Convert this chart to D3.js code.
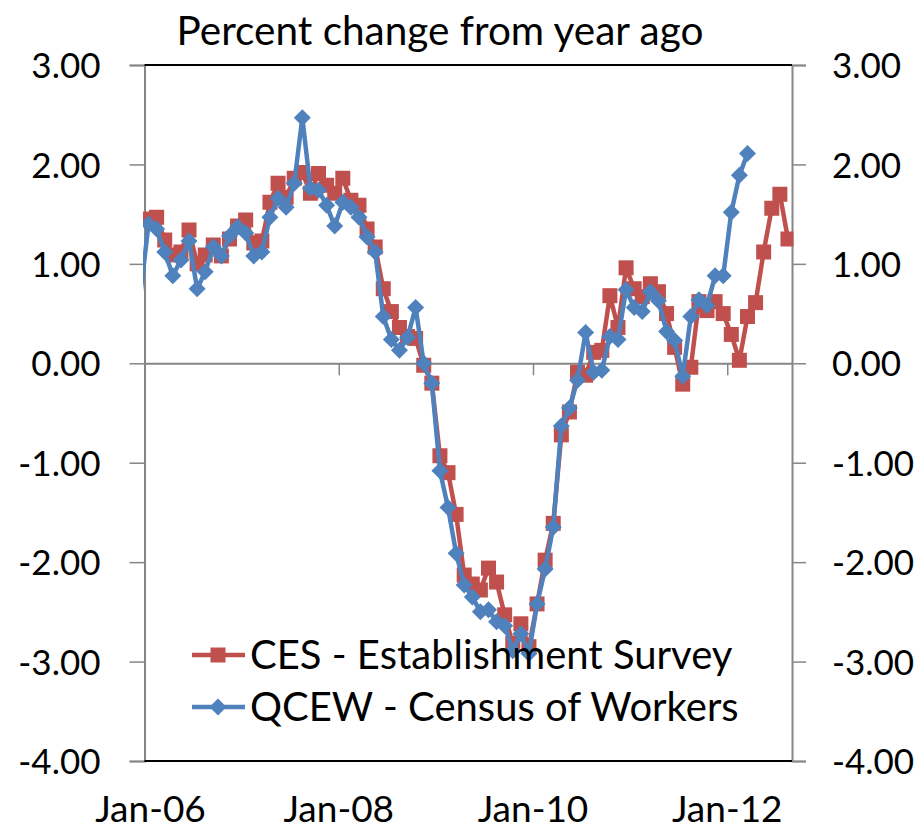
<!DOCTYPE html>
<html>
<head>
<meta charset="utf-8">
<script src="https://cdn.jsdelivr.net/npm/d3@7"></script>
<style>
	body { margin: 0; background: #fff; }
	text { font-family: Lato, "Open Sans", sans-serif; fill: #000; }
</style>
</head>
<body>
<svg id="chart" width="924" height="831"></svg>
<script>
// month 0 = Jan-06, one value per month
var qcewStart = -1; // QCEW series begins one month before the axis (clipped)

var ces = [1.45, 1.47, 1.24, 1.09, 1.12, 1.34, 1.00, 1.09, 1.19, 1.08, 1.25, 1.38, 1.44, 1.21, 1.23, 1.62,
	1.81, 1.67, 1.86, 1.92, 1.71, 1.91, 1.79, 1.71, 1.86, 1.64, 1.59, 1.35, 1.17, 0.75, 0.52, 0.36,
	0.27, 0.25, -0.02, -0.20, -0.93, -1.10, -1.52, -2.13, -2.22, -2.28, -2.06, -2.20, -2.53, -2.82,
	-2.62, -2.85, -2.42, -1.98, -1.61, -0.72, -0.49, -0.09, -0.12, 0.11, 0.13, 0.68, 0.36, 0.96,
	0.75, 0.67, 0.80, 0.72, 0.50, 0.16, -0.21, -0.04, 0.62, 0.53, 0.62, 0.50, 0.29, 0.03, 0.47,
	0.61, 1.12, 1.56, 1.70, 1.25];

var qcew = [0.70,
	1.40, 1.35, 1.12, 0.88, 1.04, 1.23, 0.75, 0.92, 1.17, 1.08, 1.28, 1.37, 1.31, 1.08, 1.12, 1.47,
	1.66, 1.57, 1.81, 2.47, 1.76, 1.74, 1.59, 1.38, 1.62, 1.57, 1.47, 1.27, 1.12, 0.47, 0.24, 0.13,
	0.26, 0.56, 0.00, -0.20, -1.08, -1.45, -1.91, -2.23, -2.35, -2.50, -2.48, -2.60, -2.64, -2.89,
	-2.72, -2.92, -2.42, -2.07, -1.65, -0.63, -0.45, -0.17, 0.31, -0.09, -0.07, 0.27, 0.24, 0.74,
	0.56, 0.52, 0.72, 0.63, 0.32, 0.23, -0.13, 0.47, 0.64, 0.58, 0.88, 0.88, 1.52, 1.89, 2.11];

var xTickMonths = [0, 24, 48, 72];
var xTickLabels = ["Jan-06", "Jan-08", "Jan-10", "Jan-12"];
var yTicks = [3, 2, 1, 0, -1, -2, -3, -4];
var seriesNames = ["CES - Establishment Survey", "QCEW - Census of Workers"];
var title = "Percent change from year ago";

var layout = {left: 144.5, right: 792, top: 65, bottom: 761, months: 80};
var colors = {ces: "#C0504D", qcew: "#4F81BD", axis: "#868686"};

var svg = d3.select("#chart");

var xScale = d3.scaleLinear()
	.domain([0, layout.months])
	.range([layout.left, layout.right]);
var yScale = d3.scaleLinear()
	.domain([-4, 3])
	.range([layout.bottom, layout.top]);

// points sit in the middle of their month
function monthX(i) { return xScale(i + 0.5); }

function fmt(d) { return d.toFixed(2); }

svg.append("defs").append("clipPath")
	.attr("id", "plotclip")
	.append("rect")
	.attr("x", layout.left - 1.5)
	.attr("y", layout.top - 10)
	.attr("width", layout.right - layout.left + 3)
	.attr("height", layout.bottom - layout.top + 20);

// left axis
var leftAxis = svg.append("g")
	.attr("transform", "translate(" + layout.left + ",0)")
	.call(d3.axisLeft(yScale).tickValues(yTicks).tickFormat(fmt).tickSize(15).tickPadding(29));
// right axis
var rightAxis = svg.append("g")
	.attr("transform", "translate(" + layout.right + ",0)")
	.call(d3.axisRight(yScale).tickValues(yTicks).tickFormat(fmt).tickSize(14).tickPadding(26));

[leftAxis, rightAxis].forEach(function(ax) {
	ax.select(".domain").attr("stroke", colors.axis).attr("stroke-width", 2);
	ax.selectAll(".tick line").attr("stroke", colors.axis).attr("stroke-width", 1.5);
	ax.selectAll(".tick text")
		.style("font-size", "35px")
		.attr("dy", "0.36em");
});

// zero line with month ticks
var xAxis = svg.append("g")
	.attr("transform", "translate(0," + yScale(0) + ")")
	.call(d3.axisBottom(xScale).tickValues(xTickMonths).tickFormat("").tickSizeInner(12).tickSizeOuter(0));
xAxis.select(".domain").attr("stroke", colors.axis).attr("stroke-width", 2);
xAxis.selectAll(".tick line").attr("stroke", colors.axis).attr("stroke-width", 1.5);

// month labels under the plot
svg.append("g").selectAll("text")
	.data(xTickMonths)
	.enter().append("text")
	.attr("x", function(d, i) { return xScale(d) + (i == 0 ? 6 : 0); })
	.attr("y", 822)
	.attr("text-anchor", "middle")
	.style("font-size", "37px")
	.text(function(d, i) { return xTickLabels[i]; });

// plot frame top and bottom
svg.append("line")
	.attr("x1", layout.left).attr("x2", layout.right)
	.attr("y1", layout.top).attr("y2", layout.top)
	.attr("stroke", "#000").attr("stroke-width", 2);
svg.append("line")
	.attr("x1", layout.left).attr("x2", layout.right)
	.attr("y1", layout.bottom).attr("y2", layout.bottom)
	.attr("stroke", "#000").attr("stroke-width", 2);

var plot = svg.append("g").attr("clip-path", "url(#plotclip)");

var lineGen = d3.line()
	.x(function(d) { return monthX(d.m); })
	.y(function(d) { return yScale(d.v); });

var cesData = ces.map(function(v, i) { return {m: i, v: v}; });
var qcewData = qcew.map(function(v, i) { return {m: i + qcewStart, v: v}; });

var squareSym = d3.symbol().type(d3.symbolSquare).size(15 * 15);
var diamondPath = function(s) {
	return "M0," + (-s) + "L" + s + ",0L0," + s + "L" + (-s) + ",0Z";
};

function drawSeries(data, color, marker) {
	plot.append("path")
		.datum(data)
		.attr("d", lineGen)
		.attr("fill", "none")
		.attr("stroke", color)
		.attr("stroke-width", 4.5)
		.attr("stroke-linejoin", "round");
	// markers only for months inside the axis range
	plot.append("g").selectAll("path")
		.data(data.filter(function(d) { return d.m >= 0; }))
		.enter().append("path")
		.attr("transform", function(d) { return "translate(" + monthX(d.m) + "," + yScale(d.v) + ")"; })
		.attr("d", marker)
		.attr("fill", color);
}

drawSeries(cesData, colors.ces, squareSym());
drawSeries(qcewData, colors.qcew, diamondPath(8.5));

// legend
var legend = svg.append("g");
var legendRows = [
	{name: seriesNames[0], color: colors.ces, marker: squareSym(), y: 655},
	{name: seriesNames[1], color: colors.qcew, marker: diamondPath(8.5), y: 707}
];
legendRows.forEach(function(r) {
	legend.append("line")
		.attr("x1", 192).attr("x2", 245)
		.attr("y1", r.y).attr("y2", r.y)
		.attr("stroke", r.color).attr("stroke-width", 4.5);
	legend.append("path")
		.attr("transform", "translate(218," + r.y + ")")
		.attr("d", r.marker)
		.attr("fill", r.color);
	legend.append("text")
		.attr("x", 250)
		.attr("y", r.y)
		.attr("dy", "0.36em")
		.style("font-size", "40px")
		.text(r.name);
});

svg.append("text")
	.attr("x", 440)
	.attr("y", 45)
	.attr("text-anchor", "middle")
	.style("font-size", "40.5px")
	.text(title);
</script>
</body>
</html>
